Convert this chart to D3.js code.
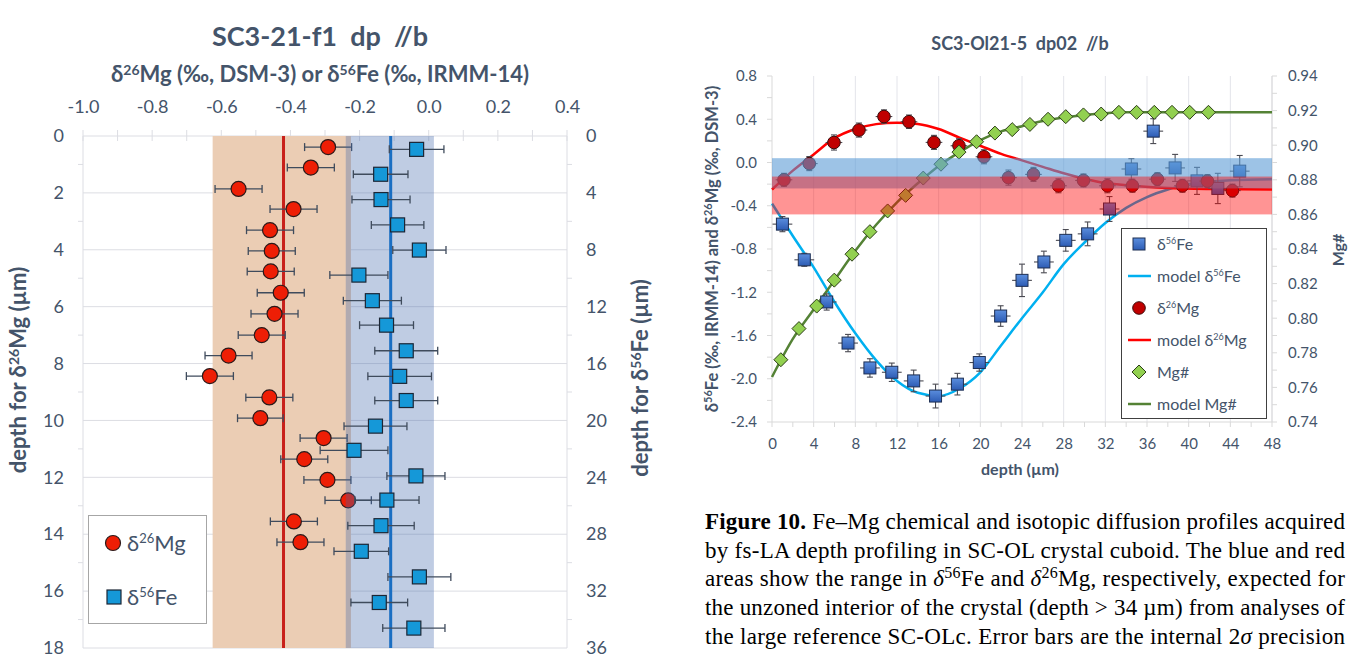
<!DOCTYPE html>
<html><head><meta charset="utf-8">
<script src="https://cdn.jsdelivr.net/npm/d3@7"></script>
<style>body{margin:0;background:#fff;} svg{display:block;font-family:Lato,'Open Sans',sans-serif;}</style>
</head><body><svg id="c" width="1358" height="657"></svg>
<script>
// ---------------- LEFT CHART DATA ----------------
const leftXTicks = [-1.0,-0.8,-0.6,-0.4,-0.2,0.0,0.2,0.4];
const leftMgDepthTicks = [0,2,4,6,8,10,12,14,16,18];
const leftFeDepthTicks = [0,4,8,12,16,20,24,28,32,36];
const mgDepthL = [0.39,1.11,1.86,2.57,3.31,4.04,4.76,5.51,6.25,7.0,7.72,8.44,9.19,9.92,10.62,11.36,12.09,12.81,13.55,14.28];
const mgValL   = [-0.291,-0.341,-0.55,-0.391,-0.459,-0.454,-0.457,-0.428,-0.446,-0.483,-0.579,-0.633,-0.461,-0.487,-0.304,-0.36,-0.293,-0.233,-0.39,-0.371];
const mgErrL   = [0.068,0.068,0.068,0.068,0.068,0.068,0.068,0.068,0.068,0.068,0.068,0.068,0.068,0.066,0.068,0.068,0.068,0.067,0.068,0.068];
const feDepthL = [0.94,2.69,4.47,6.25,8.02,9.78,11.58,13.3,15.1,16.9,18.6,20.4,22.1,23.9,25.6,27.4,29.2,31.0,32.8,34.6];
const feValL   = [-0.035,-0.139,-0.138,-0.09,-0.027,-0.202,-0.163,-0.122,-0.065,-0.084,-0.065,-0.154,-0.216,-0.037,-0.121,-0.138,-0.195,-0.027,-0.143,-0.043];
const feErrL   = [0.079,0.079,0.084,0.076,0.077,0.084,0.084,0.078,0.091,0.092,0.091,0.091,0.098,0.084,0.093,0.096,0.079,0.091,0.082,0.09];
const mgMeanL = -0.42, feMeanL = -0.11;
const mgRangeL = [-0.625,-0.225], feRangeL = [-0.24,0.015];

// ---------------- RIGHT CHART DATA ----------------
const rightXTicks = [0,4,8,12,16,20,24,28,32,36,40,44,48];
const rightYTicks = [-2.4,-2.0,-1.6,-1.2,-0.8,-0.4,0.0,0.4,0.8];
const rightY2Ticks = [0.74,0.76,0.78,0.80,0.82,0.84,0.86,0.88,0.90,0.92,0.94];
const feDepthR = [1.0,3.1,5.25,7.3,9.4,11.5,13.6,15.7,17.8,19.9,21.95,24.0,26.1,28.2,30.3,32.4,34.5,36.6,38.7,40.8,42.8,44.9];
const feValR   = [-0.57,-0.90,-1.29,-1.67,-1.90,-1.94,-2.02,-2.16,-2.05,-1.85,-1.42,-1.09,-0.92,-0.72,-0.66,-0.43,-0.06,0.29,-0.05,-0.17,-0.24,-0.08];
const feErrR   = [0.07,0.06,0.075,0.08,0.085,0.085,0.1,0.11,0.1,0.08,0.095,0.15,0.1,0.1,0.11,0.115,0.095,0.115,0.125,0.125,0.14,0.145];
const feXErrR = 0.95;
const mgDepthR = [1.15,3.58,5.95,8.35,10.75,13.15,15.55,17.95,20.35,22.7,25.1,27.5,29.9,32.2,34.6,37.0,39.4,41.8,44.2];
const mgValR   = [-0.16,-0.01,0.185,0.30,0.425,0.377,0.186,0.155,0.053,-0.14,-0.11,-0.215,-0.166,-0.215,-0.215,-0.154,-0.215,-0.172,-0.26];
const mgErrR   = [0.06,0.065,0.07,0.065,0.062,0.062,0.065,0.065,0.065,0.07,0.065,0.065,0.06,0.065,0.06,0.06,0.06,0.06,0.06];
const mgXErrR = 0.8;
const mgnDepthR = [0.85,2.59,4.29,5.98,7.68,9.4,11.1,12.83,14.52,16.22,17.95,19.64,21.4,23.06,24.76,26.5,28.2,29.9,31.6,33.3,35.0,36.7,38.4,40.1,41.9];
const mgnValR   = [0.776,0.794,0.807,0.822,0.837,0.850,0.862,0.871,0.881,0.889,0.896,0.902,0.907,0.909,0.912,0.915,0.9165,0.9175,0.918,0.919,0.919,0.919,0.919,0.919,0.919];
const modelFeDepth = [0,2,4,6,8,10,12,14,16,18,20,22,24,26,28,30,32,34,36,38,40,44,48];
const modelFeVal   = [-0.38,-0.68,-0.97,-1.29,-1.58,-1.83,-2.02,-2.13,-2.16,-2.09,-1.94,-1.69,-1.44,-1.2,-0.94,-0.74,-0.56,-0.42,-0.32,-0.25,-0.2,-0.165,-0.155];
const modelMgDepth = [0,2,4,6,8,10,12,14,16,18,20,22,24,26,28,30,32,34,38,42,48];
const modelMgVal   = [-0.25,-0.075,0.075,0.225,0.31,0.355,0.368,0.357,0.31,0.23,0.155,0.08,0.02,-0.04,-0.1,-0.15,-0.19,-0.21,-0.235,-0.245,-0.25];
const modelMgnDepth = [0,2,4,6,8,10,12,14,16,18,20,22,24,26,28,30,32,34,38,42,48];
const modelMgnVal   = [0.766,0.788,0.805,0.822,0.839,0.854,0.867,0.878,0.888,0.896,0.903,0.908,0.911,0.914,0.916,0.9175,0.9185,0.919,0.919,0.919,0.919];
const feBandR = [-0.24,0.04], mgBandR = [-0.48,-0.13];

const TXT = '#44546a';
const NB = '\u00a0';
const svg = d3.select('#c');

function rich(t, parts, supSize, shift){
  let pend = 0;
  parts.forEach(p=>{
    const s = t.append('tspan').text(p.t);
    if (p.sup){ s.attr('font-size', supSize).attr('dy', -shift + pend); pend = shift; }
    else { if (pend) s.attr('dy', pend); pend = 0; }
    if (p.i) s.attr('font-style','italic');
    if (p.b) s.attr('font-weight','bold');
  });
}

// ================= LEFT CHART =================
const xL = d3.scaleLinear().domain([-1,0.4]).range([83,567]);
const yMg = d3.scaleLinear().domain([0,18]).range([136,648]);
const yFe = d3.scaleLinear().domain([0,36]).range([136,648]);
const L = svg.append('g');

L.append('text').attr('x',320).attr('y',46).attr('text-anchor','middle').attr('font-size',27).attr('font-weight','bold').attr('fill',TXT).text('SC3-21-f1'+NB+NB+'dp'+NB+NB+'//b');
rich(L.append('text').attr('x',320).attr('y',82).attr('text-anchor','middle').attr('font-size',22).attr('font-weight','bold').attr('fill',TXT),
  [{t:'δ'},{t:'26',sup:1},{t:'Mg (‰, DSM-3) or δ'},{t:'56',sup:1},{t:'Fe (‰, IRMM-14)'}],14,7);

// gridlines
L.selectAll('.hg').data(leftMgDepthTicks).join('line').attr('x1',83).attr('x2',567).attr('y1',d=>yMg(d)).attr('y2',d=>yMg(d)).attr('stroke','#dcdde3').attr('stroke-width',1);
L.selectAll('.tt').data(d3.range(15).map(i=>-1+i*0.1)).join('line').attr('x1',d=>xL(d)).attr('x2',d=>xL(d)).attr('y1',130).attr('y2',141).attr('stroke','#dcdde3');
L.append('line').attr('x1',83).attr('x2',83).attr('y1',136).attr('y2',648).attr('stroke','#dcdde3');
L.append('line').attr('x1',567).attr('x2',567).attr('y1',136).attr('y2',648).attr('stroke','#dcdde3');
L.selectAll('.lt').data(d3.range(1,18,2)).join('line').attr('x1',78).attr('x2',83).attr('y1',d=>yMg(d)).attr('y2',d=>yMg(d)).attr('stroke','#dcdde3');
L.selectAll('.rt').data(d3.range(2,36,4)).join('line').attr('x1',567).attr('x2',572).attr('y1',d=>yFe(d)).attr('y2',d=>yFe(d)).attr('stroke','#dcdde3');

// axes labels
function styleAxis(g,size){ g.select('.domain').remove(); g.selectAll('text').attr('fill',TXT).attr('font-size',size).attr('font-family','Lato'); g.selectAll('line').remove(); }
L.append('g').attr('transform','translate(0,136)').call(d3.axisTop(xL).tickValues(leftXTicks).tickFormat(d=>d.toFixed(1)).tickSize(0).tickPadding(23)).call(g=>styleAxis(g,18));
L.append('g').attr('transform','translate(83,0)').call(d3.axisLeft(yMg).tickValues(leftMgDepthTicks).tickSize(0).tickPadding(19)).call(g=>styleAxis(g,18));
L.append('g').attr('transform','translate(567,0)').call(d3.axisRight(yFe).tickValues(leftFeDepthTicks).tickSize(0).tickPadding(19)).call(g=>styleAxis(g,18));

rich(L.append('text').attr('transform','translate(26,370) rotate(-90)').attr('text-anchor','middle').attr('font-size',22).attr('font-weight','bold').attr('fill',TXT),
  [{t:'depth for δ'},{t:'26',sup:1},{t:'Mg (µm)'}],14,7);
rich(L.append('text').attr('transform','translate(648,378) rotate(-90)').attr('text-anchor','middle').attr('font-size',22).attr('font-weight','bold').attr('fill',TXT),
  [{t:'depth for δ'},{t:'56',sup:1},{t:'Fe (µm)'}],14,7);

// orange band & red line
L.append('rect').attr('x',xL(mgRangeL[0])).attr('width',xL(mgRangeL[1])-xL(mgRangeL[0])).attr('y',yMg(0)).attr('height',yMg(18)-yMg(0)).attr('fill','#ebcdb4');
L.append('line').attr('x1',xL(mgMeanL)).attr('x2',xL(mgMeanL)).attr('y1',yMg(0)).attr('y2',yMg(18)).attr('stroke','#c8201a').attr('stroke-width',3);

const ebc = '#3f4b5c';
function errH(g, xs, ys, es, xs_, ys_, cap){
  const gg = g.append('g').attr('stroke',ebc).attr('stroke-width',1.3);
  xs.forEach((d,i)=>{
    const y = ys_(ys[i]);
    gg.append('line').attr('x1',xs_(d-es[i])).attr('x2',xs_(d+es[i])).attr('y1',y).attr('y2',y);
    gg.append('line').attr('x1',xs_(d-es[i])).attr('x2',xs_(d-es[i])).attr('y1',y-cap).attr('y2',y+cap);
    gg.append('line').attr('x1',xs_(d+es[i])).attr('x2',xs_(d+es[i])).attr('y1',y-cap).attr('y2',y+cap);
  });
}
errH(L, mgValL, mgDepthL, mgErrL, xL, yMg, 4);
L.append('g').selectAll('circle').data(mgValL).join('circle').attr('cx',d=>xL(d)).attr('cy',(d,i)=>yMg(mgDepthL[i])).attr('r',7.5).attr('fill','#ee1e05').attr('stroke','#2a1a1a').attr('stroke-width',1.2);

// blue band & line
L.append('rect').attr('x',xL(feRangeL[0])).attr('width',xL(feRangeL[1])-xL(feRangeL[0])).attr('y',yMg(0)).attr('height',yMg(18)-yMg(0)).attr('fill','rgb(60,100,170)').attr('fill-opacity',0.33);
L.append('line').attr('x1',xL(feMeanL)).attr('x2',xL(feMeanL)).attr('y1',yMg(0)).attr('y2',yMg(18)).attr('stroke','#1a6ec2').attr('stroke-width',3);
errH(L, feValL, feDepthL, feErrL, xL, yFe, 4);
L.append('g').selectAll('rect').data(feValL).join('rect').attr('x',d=>xL(d)-7).attr('y',(d,i)=>yFe(feDepthL[i])-7).attr('width',14).attr('height',14).attr('fill','#1598d8').attr('stroke','#1c2635').attr('stroke-width',1.2);

// left legend
L.append('rect').attr('x',88.5).attr('y',515.5).attr('width',118).attr('height',108).attr('fill','#fff').attr('stroke','#a6a6a6');
L.append('circle').attr('cx',113).attr('cy',543).attr('r',7.5).attr('fill','#ee1e05').attr('stroke','#2a1a1a').attr('stroke-width',1.2);
rich(L.append('text').attr('x',127).attr('y',551).attr('font-size',22).attr('fill',TXT),[{t:'δ'},{t:'26',sup:1},{t:'Mg'}],13,8);
L.append('rect').attr('x',107).attr('y',590).attr('width',14).attr('height',14).attr('fill','#1598d8').attr('stroke','#1c2635').attr('stroke-width',1.2);
rich(L.append('text').attr('x',127).attr('y',605).attr('font-size',22).attr('fill',TXT),[{t:'δ'},{t:'56',sup:1},{t:'Fe'}],13,8);

// ================= RIGHT CHART =================
const xR = d3.scaleLinear().domain([0,48]).range([772,1272]);
const yV = d3.scaleLinear().domain([-2.4,0.8]).range([422,76]);
const yM = d3.scaleLinear().domain([0.74,0.94]).range([422,76]);
const R = svg.append('g');
const defs = svg.append('defs');
const gr = defs.append('linearGradient').attr('id','sqg').attr('x1',0).attr('y1',0).attr('x2',0).attr('y2',1);
gr.append('stop').attr('offset','0%').attr('stop-color','#5b8ede');
gr.append('stop').attr('offset','100%').attr('stop-color','#2d5cb4');

R.append('text').attr('x',1020).attr('y',50).attr('text-anchor','middle').attr('font-size',18).attr('font-weight','bold').attr('fill',TXT).text('SC3-Ol21-5'+NB+NB+'dp02'+NB+NB+'//b');
// gridlines
R.selectAll('.vg').data(rightXTicks.slice(1)).join('line').attr('x1',d=>xR(d)).attr('x2',d=>xR(d)).attr('y1',76).attr('y2',422).attr('stroke','#e3e4ea');
R.append('line').attr('x1',772).attr('x2',772).attr('y1',76).attr('y2',422).attr('stroke','#d9d9d9');
R.append('line').attr('x1',1272).attr('x2',1272).attr('y1',76).attr('y2',422).attr('stroke','#d9d9d9');
R.append('line').attr('x1',772).attr('x2',1272).attr('y1',422).attr('y2',422).attr('stroke','#d9d9d9');
R.selectAll('.bt').data(d3.range(0,49,2)).join('line').attr('x1',d=>xR(d)).attr('x2',d=>xR(d)).attr('y1',422).attr('y2',427).attr('stroke','#d9d9d9');
R.selectAll('.lt').data(d3.range(0,17).map(i=>-2.4+i*0.2)).join('line').attr('x1',767).attr('x2',772).attr('y1',d=>yV(d)).attr('y2',d=>yV(d)).attr('stroke','#d9d9d9');
R.selectAll('.rt').data(d3.range(0,21).map(i=>0.74+i*0.01)).join('line').attr('x1',1272).attr('x2',1277).attr('y1',d=>yM(d)).attr('y2',d=>yM(d)).attr('stroke','#d9d9d9');

R.append('g').attr('transform','translate(0,422)').call(d3.axisBottom(xR).tickValues(rightXTicks).tickSize(0).tickPadding(16)).call(g=>styleAxis(g,15));
R.append('g').attr('transform','translate(772,0)').call(d3.axisLeft(yV).tickValues(rightYTicks).tickFormat(d=>d.toFixed(1)).tickSize(0).tickPadding(15)).call(g=>styleAxis(g,15));
R.append('g').attr('transform','translate(1272,0)').call(d3.axisRight(yM).tickValues(rightY2Ticks).tickFormat(d=>d.toFixed(2)).tickSize(0).tickPadding(16)).call(g=>styleAxis(g,15));

R.append('text').attr('x',1020).attr('y',475).attr('text-anchor','middle').attr('font-size',16).attr('font-weight','bold').attr('fill',TXT).text('depth (µm)');
rich(R.append('text').attr('transform','translate(718,249) rotate(-90)').attr('text-anchor','middle').attr('font-size',16.5).attr('font-weight','bold').attr('fill',TXT),
  [{t:'δ'},{t:'56',sup:1},{t:'Fe (‰, IRMM-14) and δ'},{t:'26',sup:1},{t:'Mg (‰, DSM-3)'}],11,6);
R.append('text').attr('transform','translate(1344,250) rotate(-90)').attr('text-anchor','middle').attr('font-size',16).attr('font-weight','bold').attr('fill',TXT).text('Mg#');

// model lines
const lnV = (ds)=>d3.line().x((d,i)=>xR(ds[i])).y(d=>yV(d)).curve(d3.curveMonotoneX);
const lnM = (ds)=>d3.line().x((d,i)=>xR(ds[i])).y(d=>yM(d)).curve(d3.curveMonotoneX);
R.append('path').attr('d',lnV(modelFeDepth)(modelFeVal)).attr('fill','none').attr('stroke','#00b0f0').attr('stroke-width',2.5);
R.append('path').attr('d',lnV(modelMgDepth)(modelMgVal)).attr('fill','none').attr('stroke','#ff0000').attr('stroke-width',2.5);
R.append('path').attr('d',lnM(modelMgnDepth)(modelMgnVal)).attr('fill','none').attr('stroke','#548235').attr('stroke-width',2.5);

function errXY(g, xs, ys, ye, xe, ysc){
  const gg = g.append('g').attr('stroke','#4a4a52').attr('stroke-width',1.1);
  xs.forEach((d,i)=>{
    const x = xR(d), y = ysc(ys[i]);
    gg.append('line').attr('x1',xR(d-xe)).attr('x2',xR(d+xe)).attr('y1',y).attr('y2',y);
    gg.append('line').attr('x1',x).attr('x2',x).attr('y1',ysc(ys[i]-ye[i])).attr('y2',ysc(ys[i]+ye[i]));
    [ys[i]-ye[i], ys[i]+ye[i]].forEach(v=>gg.append('line').attr('x1',x-3).attr('x2',x+3).attr('y1',ysc(v)).attr('y2',ysc(v)));
  });
}
errXY(R, feDepthR, feValR, feErrR, feXErrR, yV);
R.append('g').selectAll('rect').data(feValR).join('rect').attr('x',(d,i)=>xR(feDepthR[i])-6).attr('y',d=>yV(d)-6).attr('width',12).attr('height',12).attr('fill','url(#sqg)').attr('stroke','#1d2e52').attr('stroke-width',1);
errXY(R, mgDepthR, mgValR, mgErrR, mgXErrR, yV);
R.append('g').selectAll('circle').data(mgValR).join('circle').attr('cx',(d,i)=>xR(mgDepthR[i])).attr('cy',d=>yV(d)).attr('r',6.3).attr('fill','#c00000').attr('stroke','#3b0c0c').attr('stroke-width',1);
const dia = 'M0,-7L7,0L0,7L-7,0Z';
R.append('g').selectAll('path').data(mgnValR).join('path').attr('d',dia).attr('transform',(d,i)=>`translate(${xR(mgnDepthR[i])},${yM(d)})`).attr('fill','#92d050').attr('stroke','#2c3d18').attr('stroke-width',1);

// bands (on top, translucent)
R.append('rect').attr('x',772).attr('width',500).attr('y',yV(feBandR[1])).attr('height',yV(feBandR[0])-yV(feBandR[1])).attr('fill','rgb(91,155,213)').attr('fill-opacity',0.6);
R.append('rect').attr('x',772).attr('width',500).attr('y',yV(mgBandR[1])).attr('height',yV(mgBandR[0])-yV(mgBandR[1])).attr('fill','rgb(255,0,0)').attr('fill-opacity',0.42);

// right legend
R.append('rect').attr('x',1121.5).attr('y',228.5).attr('width',145).attr('height',190).attr('fill','#fff').attr('stroke','#404040');
const ly = [244,276,308,340,372,404];
R.append('rect').attr('x',1133).attr('y',ly[0]-6).attr('width',12).attr('height',12).attr('fill','url(#sqg)').attr('stroke','#1d2e52');
R.append('line').attr('x1',1128).attr('x2',1151).attr('y1',ly[1]).attr('y2',ly[1]).attr('stroke','#00b0f0').attr('stroke-width',2.5);
R.append('circle').attr('cx',1139).attr('cy',ly[2]).attr('r',6.3).attr('fill','#c00000').attr('stroke','#3b0c0c');
R.append('line').attr('x1',1128).attr('x2',1151).attr('y1',ly[3]).attr('y2',ly[3]).attr('stroke','#ff0000').attr('stroke-width',2.5);
R.append('path').attr('d',dia).attr('transform',`translate(1139,${ly[4]})`).attr('fill','#92d050').attr('stroke','#2c3d18');
R.append('line').attr('x1',1128).attr('x2',1151).attr('y1',ly[5]).attr('y2',ly[5]).attr('stroke','#548235').attr('stroke-width',2.5);
const legParts = [
  [{t:'δ'},{t:'56',sup:1},{t:'Fe'}],
  [{t:'model δ'},{t:'56',sup:1},{t:'Fe'}],
  [{t:'δ'},{t:'26',sup:1},{t:'Mg'}],
  [{t:'model δ'},{t:'26',sup:1},{t:'Mg'}],
  [{t:'Mg#'}],
  [{t:'model Mg#'}]];
legParts.forEach((p,i)=>rich(R.append('text').attr('x',1157).attr('y',ly[i]+6).attr('font-size',16).attr('fill',TXT),p,9,6));

// ================= CAPTION =================
const C = svg.append('g').attr('font-family',"'Liberation Serif','Times New Roman',serif").attr('font-size',23).attr('fill','#000');
const capLines = [
  [{t:'Figure 10.',b:1},{t:' Fe–Mg chemical and isotopic diffusion profiles acquired'}],
  [{t:'by fs-LA depth profiling in SC-OL crystal cuboid. The blue and red'}],
  [{t:'areas show the range in '},{t:'δ',i:1},{t:'56',sup:1},{t:'Fe and '},{t:'δ',i:1},{t:'26',sup:1},{t:'Mg, respectively, expected for'}],
  [{t:'the unzoned interior of the crystal (depth > 34 µm) from analyses of'}],
  [{t:'the large reference SC-OLc. Error bars are the internal 2'},{t:'σ',i:1},{t:' precision'}]];
const capY = [529,558,586,615,644];
capLines.forEach((p,i)=>{
  const t = C.append('text').attr('x',705).attr('y',capY[i]).attr('textLength',640).attr('lengthAdjust','spacing');
  rich(t,p,16,8);
});
</script></body></html>
